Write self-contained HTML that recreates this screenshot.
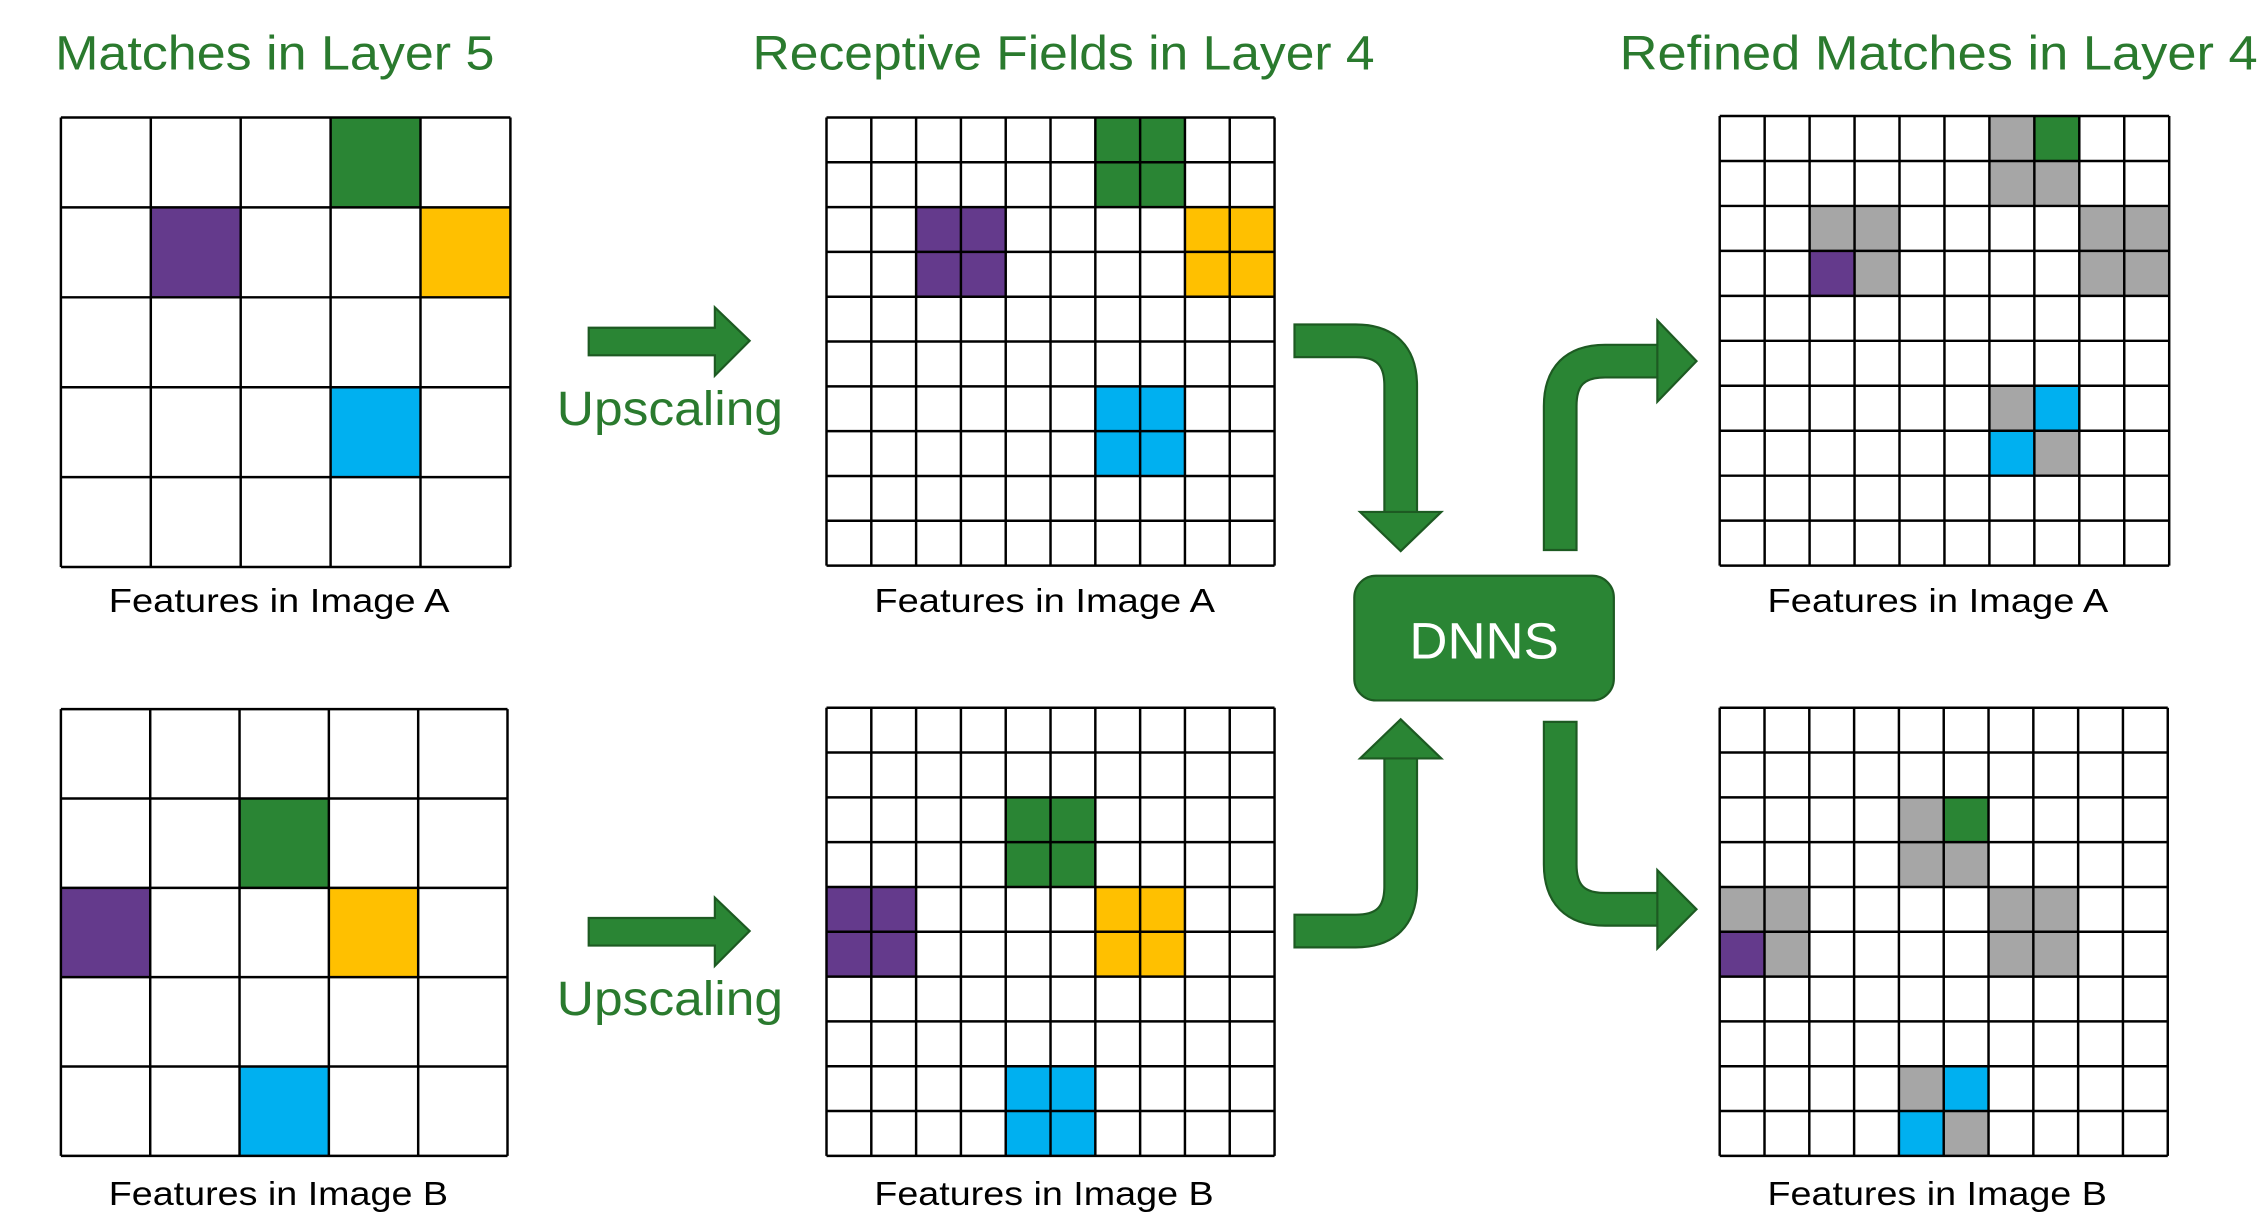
<!DOCTYPE html>
<html><head><meta charset="utf-8"><style>
html,body{margin:0;padding:0;background:#fff;}
svg{display:block;}
</style></head><body>
<svg id="s" width="2262" height="1224" viewBox="0 0 1560 844" preserveAspectRatio="none" xmlns="http://www.w3.org/2000/svg" font-family="Liberation Sans, sans-serif">
<rect width="1560" height="844" fill="#fff"/>
<g id="grids"></g>
<g fill="#2a7a2e" font-size="33">
<text x="38" y="48" textLength="303" lengthAdjust="spacingAndGlyphs">Matches in Layer 5</text>
<text x="519" y="48" textLength="429" lengthAdjust="spacingAndGlyphs">Receptive Fields in Layer 4</text>
<text x="1117" y="48" textLength="440" lengthAdjust="spacingAndGlyphs">Refined Matches in Layer 4</text>
<text x="384" y="293" textLength="156" lengthAdjust="spacingAndGlyphs">Upscaling</text>
<text x="384" y="700" textLength="156" lengthAdjust="spacingAndGlyphs">Upscaling</text>
</g>
<g fill="#000" font-size="23">
<text x="75" y="422" textLength="235" lengthAdjust="spacingAndGlyphs">Features in Image A</text>
<text x="603" y="422" textLength="235" lengthAdjust="spacingAndGlyphs">Features in Image A</text>
<text x="1219" y="422" textLength="235" lengthAdjust="spacingAndGlyphs">Features in Image A</text>
<text x="75" y="831" textLength="234" lengthAdjust="spacingAndGlyphs">Features in Image B</text>
<text x="603" y="831" textLength="234" lengthAdjust="spacingAndGlyphs">Features in Image B</text>
<text x="1219" y="831" textLength="234" lengthAdjust="spacingAndGlyphs">Features in Image B</text>
</g>
<!-- straight arrows -->
<g fill="#2a8534" stroke="#1d5a22" stroke-width="1.5">
<polygon points="406,226 493,226 493,212 517,235 493,259 493,245 406,245"/>
<polygon points="406,633 493,633 493,619 517,642 493,666 493,652 406,652"/>
</g>
<!-- curved arrows -->
<g fill="none" stroke-linejoin="round">
<g stroke="#1d5a22" stroke-width="24">
<path d="M892,235 H935 Q966,235 966,266 V355"/>
<path d="M892,642 H935 Q966,642 966,611 V522"/>
<path d="M1076,380 V280 Q1076,249 1107,249 H1145"/>
<path d="M1076,497 V596 Q1076,627 1107,627 H1145"/>
</g>
<g stroke="#2a8534" stroke-width="21">
<path d="M893.5,235 H935 Q966,235 966,266 V356"/>
<path d="M893.5,642 H935 Q966,642 966,611 V521"/>
<path d="M1076,378.5 V280 Q1076,249 1107,249 H1146"/>
<path d="M1076,498.5 V596 Q1076,627 1107,627 H1146"/>
</g>
</g>
<g fill="#2a8534" stroke="#1d5a22" stroke-width="1.5">
<polygon points="938,353 994,353 966,380"/>
<polygon points="938,523 994,523 966,496"/>
<polygon points="1143,221 1143,277 1170,249"/>
<polygon points="1143,600 1143,654 1170,627"/>
</g>
<rect x="934" y="397" width="179" height="86" rx="15" fill="#2a8534" stroke="#1d5a22" stroke-width="1.5"/>
<text x="972" y="454" fill="#fff" font-size="35" textLength="103" lengthAdjust="spacingAndGlyphs">DNNS</text>
</svg>
<script>
var g=document.getElementById('grids'),NS='http://www.w3.org/2000/svg';
var C={G:'#2a8534',P:'#643a8c',Y:'#ffc000',B:'#00b0f0',R:'#a6a6a6'};
function grid(x,y,n,sz,cells){
 var cs=sz/n;
 cells.forEach(function(c){var r=document.createElementNS(NS,'rect');
  r.setAttribute('x',x+c[1]*cs);r.setAttribute('y',y+c[0]*cs);
  r.setAttribute('width',cs);r.setAttribute('height',cs);r.setAttribute('fill',C[c[2]]);g.appendChild(r);});
 var d='';
 for(var i=0;i<=n;i++){d+='M'+(x+i*cs)+','+y+'V'+(y+sz)+'M'+x+','+(y+i*cs)+'H'+(x+sz);}
 var p=document.createElementNS(NS,'path');p.setAttribute('d',d);p.setAttribute('stroke','#000');
 p.setAttribute('stroke-width','1.7');p.setAttribute('fill','none');g.appendChild(p);
}
function blk(r,c,col,arr){arr.push([r,c,col],[r,c+1,col],[r+1,c,col],[r+1,c+1,col]);}
grid(42,81,5,310,[[0,3,'G'],[1,1,'P'],[1,4,'Y'],[3,3,'B']]);
grid(42,489,5,308,[[1,2,'G'],[2,0,'P'],[2,3,'Y'],[4,2,'B']]);
var a=[];blk(0,6,'G',a);blk(2,2,'P',a);blk(2,8,'Y',a);blk(6,6,'B',a);grid(570,81,10,309,a);
var b=[];blk(2,4,'G',b);blk(4,0,'P',b);blk(4,6,'Y',b);blk(8,4,'B',b);grid(570,488,10,309,b);
var c=[];blk(0,6,'R',c);blk(2,2,'R',c);blk(2,8,'R',c);blk(6,6,'R',c);
c.push([0,7,'G'],[3,2,'P'],[6,7,'B'],[7,6,'B']);grid(1186,80,10,310,c);
var d=[];blk(2,4,'R',d);blk(4,0,'R',d);blk(4,6,'R',d);blk(8,4,'R',d);
d.push([2,5,'G'],[5,0,'P'],[8,5,'B'],[9,4,'B']);grid(1186,488,10,309,d);
</script>
</body></html>
